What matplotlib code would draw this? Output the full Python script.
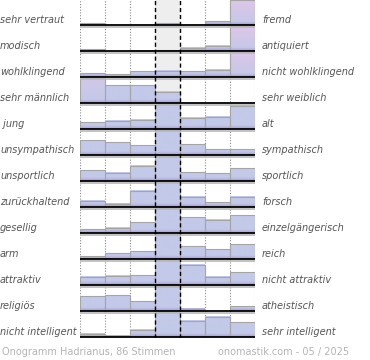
import numpy as np
import matplotlib
matplotlib.use("Agg")
import matplotlib.pyplot as plt
from matplotlib.colors import to_rgb

# semantic differential, share of votes (%) in the 7 steps
left_labels = ["sehr vertraut", "modisch", "wohlklingend", "sehr männlich", " jung",
               "unsympathisch", "unsportlich", "zurückhaltend", "gesellig", "arm",
               "attraktiv", "religiös", "nicht intelligent"]
right_labels = ["fremd", "antiquiert", "nicht wohlklingend", "sehr weiblich", "alt",
                "sympathisch", "sportlich", "forsch", "einzelgängerisch", "reich",
                "nicht attraktiv", "atheistisch", "sehr intelligent"]
values = [
    [2, 0, 0, 2, 0, 4, 92],
    [2, 0, 0.7, 1, 3.6, 5.3, 87],
    [4, 3, 6, 6.6, 6, 7.3, 67],
    [52, 18, 18, 11.4, 0, 0, 0],
    [7, 8.3, 9.3, 28, 11.3, 12.6, 23.3],
    [15, 13, 10, 39, 11, 6, 6],
    [11, 8.3, 15.3, 35, 9, 8, 13],
    [6.3, 3.3, 16.3, 47, 10.6, 5, 10.6],
    [4, 5.3, 11, 32, 16, 13.3, 18],
    [3, 6, 8, 45, 13, 10, 15],
    [8.3, 9.3, 10, 30, 20.6, 8.6, 13],
    [15, 16, 10, 52, 2.3, 0, 5],
    [3.7, 1.7, 7.4, 35, 16.4, 20.7, 15],
]
footer_left = "Onogramm Hadrianus, 86 Stimmen"
footer_right = "onomastik.com - 05 / 2025"

row_h = 26
first_base = 25.3
max_h = 25
blue = np.array(to_rgb("#c3c9e9"))
pink = np.array(to_rgb("#dfc6e8"))
purple = np.array(to_rgb("#a899d2"))

fig = plt.figure(figsize=(3.7, 3.6), dpi=100)
ax = fig.add_axes([80 / 370, 22 / 360, 175 / 370, 338 / 360])
ax.set_axis_off()

# middle column background
ax.axvspan(3, 4, color="#eeeeef", zorder=0, lw=0)
for c in [0, 1, 2, 5, 6, 7]:
    ax.axvline(c, color="#8a8a8a", ls=(0, (1, 1.5)), lw=0.8, zorder=1)


def gradient(h, v, middle):
    n = 60
    t = np.linspace(0, 1, n)  # 0 top, 1 bottom
    p = 0 if middle else np.clip((v - 35) / 35, 0, 1)
    top_c = blue * (1 - p) + pink * p
    cols = top_c[None, :] * (1 - t[:, None]) + blue[None, :] * t[:, None]
    d = (1 - t) * h  # px from bottom
    w = np.clip(d / 3.5, 0, 1)[:, None]
    cols = purple[None, :] * (1 - w) + cols * w
    return cols[:, None, :]


for i, row in enumerate(values):
    base = first_base + i * row_h
    for c, v in enumerate(row):
        h = min(v, max_h)
        if h <= 0:
            continue
        top = base - h
        ax.imshow(gradient(h, v, c == 3), extent=(c, c + 1, base, top),
                  origin="upper", aspect="auto", interpolation="bilinear", zorder=2)
        ax.plot([c, c, c + 1, c + 1], [base, top, top, base], color="#a5a5a5",
                lw=0.8, zorder=3, solid_joinstyle="miter")
    # baseline with shadow
    ax.plot([0, 7.04], [base + 1.6, base + 1.6], color="#b8b8b8", lw=1.2, zorder=4)
    ax.plot([0, 7], [base, base], color="black", lw=1.3, zorder=5)
    ax.text(-80 / 25, base - 5.5, left_labels[i], ha="left", va="center",
            style="italic", color="#555555", fontsize=7, clip_on=False)
    ax.text(7 + 7 / 25, base - 5.5, right_labels[i], ha="left", va="center",
            style="italic", color="#555555", fontsize=7, clip_on=False)

for c in [3, 4]:
    ax.axvline(c, color="black", ls=(0, (3, 2)), lw=1.0, zorder=6)

ax.set_xlim(0, 7)
ax.set_ylim(338, 0)

fig.text(2 / 370, 1 - 352 / 360, footer_left, ha="left", va="center",
         color="#b4b4b4", fontsize=7)
fig.text(218 / 370, 1 - 352 / 360, footer_right, ha="left", va="center",
         color="#b4b4b4", fontsize=7)

fig.savefig("out.png", dpi=100)
